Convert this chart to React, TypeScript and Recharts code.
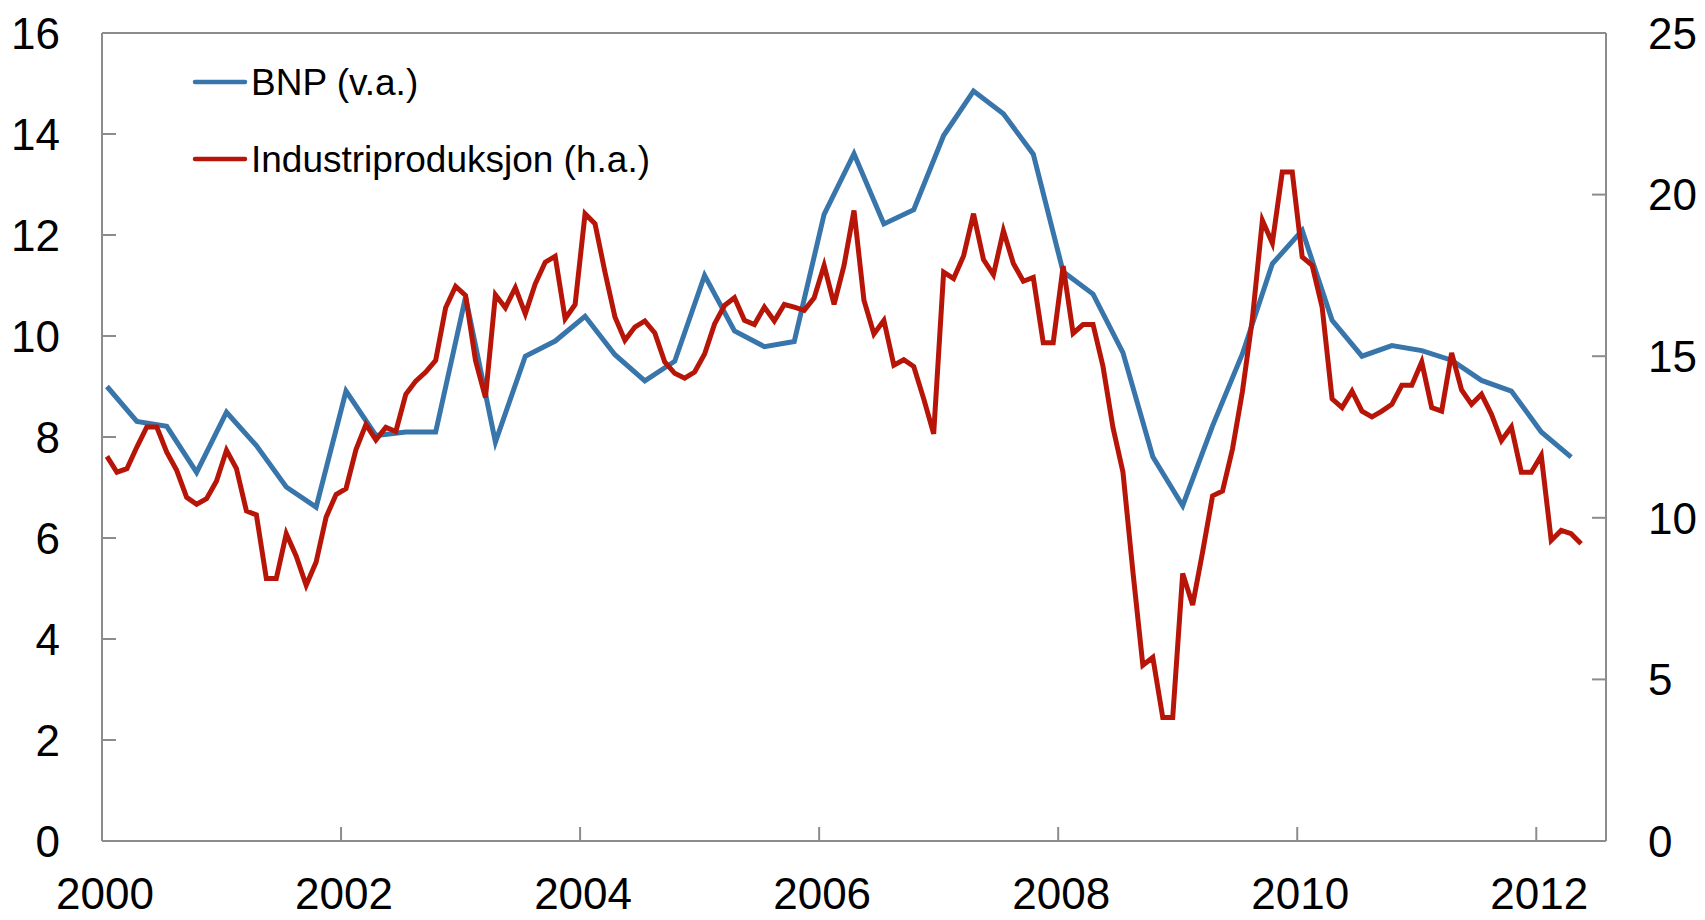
import { LineChart, Line, XAxis, YAxis, ReferenceLine, Legend } from 'recharts';

// BNP (v.a.), kvartal 2000K1 - 2012K2
const bnpValues = [
  9.0, 8.31, 8.21, 7.3, 8.49, 7.83, 7.01, 6.61, 8.91, 8.03,
  8.1, 8.1, 10.77, 7.9, 9.6, 9.9, 10.39, 9.63, 9.11, 9.5,
  11.2, 10.1, 9.79, 9.89, 12.41, 13.61, 12.22, 12.5, 13.97, 14.85,
  14.4, 13.6, 11.27, 10.83, 9.67, 7.61, 6.64, 8.22, 9.65, 11.43,
  12.09, 10.31, 9.6, 9.81, 9.71, 9.52, 9.12, 8.91, 8.1, 7.6,
];

// Industriproduksjon (h.a.), måned jan 2000 - mai 2012
const industryValues = [
  11.9, 11.41, 11.52, 12.19, 12.81, 12.81, 12.03, 11.47, 10.63, 10.42, 10.59, 11.14,
  12.09, 11.52, 10.21, 10.09, 8.12, 8.12, 9.51, 8.81, 7.91, 8.63, 10.02, 10.72,
  10.9, 12.11, 12.89, 12.41, 12.8, 12.67, 13.82, 14.23, 14.51, 14.87, 16.5, 17.16,
  16.88, 14.87, 13.72, 16.9, 16.5, 17.12, 16.31, 17.24, 17.91, 18.09, 16.16, 16.6,
  19.41, 19.1, 17.6, 16.21, 15.49, 15.9, 16.09, 15.72, 14.82, 14.47, 14.32, 14.51,
  15.07, 16.0, 16.57, 16.81, 16.11, 15.98, 16.52, 16.09, 16.6, 16.52, 16.42, 16.81,
  17.81, 16.6, 17.81, 19.51, 16.73, 15.69, 16.11, 14.72, 14.89, 14.68, 13.68, 12.6,
  17.6, 17.4, 18.1, 19.41, 17.99, 17.52, 18.88, 17.87, 17.32, 17.44, 15.42, 15.42,
  17.79, 15.71, 15.98, 15.98, 14.68, 12.79, 11.42, 8.34, 5.44, 5.68, 3.82, 3.82,
  8.28, 7.3, 8.94, 10.68, 10.83, 12.13, 13.91, 16.16, 19.2, 18.5, 20.7, 20.7,
  18.07, 17.81, 16.52, 13.68, 13.41, 13.92, 13.3, 13.12, 13.3, 13.51, 14.1, 14.1,
  14.82, 13.41, 13.3, 15.1, 13.96, 13.51, 13.82, 13.2, 12.39, 12.81, 11.41, 11.41,
  11.93, 9.3, 9.61, 9.51, 9.2,
];

const yearTicks = [0, 24, 48, 72, 96, 120, 144]; // måneder etter jan 2000
const leftTicks = [0, 2, 4, 6, 8, 10, 12, 14, 16];
const rightTicks = [0, 5, 10, 15, 20, 25];

const bnpData = bnpValues.map((v, k) => ({ m: 3 * k + 0.5, bnp: v }));
const industryData = industryValues.map((v, i) => ({ m: i + 0.5, ind: v }));

const W = 1705;
const H = 920;
const PL = 102;
const PR = 1606;
const PB = 841;
const AXIS = '#8c8c8c';
const BLUE = '#3775aa';
const RED = '#b81509';
const FONT = '"Liberation Sans", Arial, sans-serif';
const TICK_FS = 44;

const LeftTick = (props: any) => {
  const { y, payload } = props;
  return (
    <g>
      <line x1={PL} x2={PL + 14} y1={y} y2={y} stroke={AXIS} strokeWidth={2} />
      <text x={PL - 42} y={y} dy="0.36em" textAnchor="end" fontSize={TICK_FS} fontFamily={FONT} fill="#000">
        {payload.value}
      </text>
    </g>
  );
};

const RightTick = (props: any) => {
  const { y, payload } = props;
  return (
    <g>
      <line x1={PR - 14} x2={PR} y1={y} y2={y} stroke={AXIS} strokeWidth={2} />
      <text x={PR + 42} y={y} dy="0.36em" textAnchor="start" fontSize={TICK_FS} fontFamily={FONT} fill="#000">
        {payload.value}
      </text>
    </g>
  );
};

const BottomTick = (props: any) => {
  const { x, payload } = props;
  return (
    <g>
      <line x1={x} x2={x} y1={PB} y2={PB - 14} stroke={AXIS} strokeWidth={2} />
      <text x={x + 3} y={PB + 52} dy="0.36em" textAnchor="middle" fontSize={TICK_FS} fontFamily={FONT} fill="#000">
        {2000 + payload.value / 12}
      </text>
    </g>
  );
};

const legendItems = [
  { label: 'BNP (v.a.)', color: BLUE },
  { label: 'Industriproduksjon (h.a.)', color: RED },
];

const renderLegend = () => (
  <svg width={700} height={200}>
    {legendItems.map((item, i) => (
      <g key={item.label}>
        <line x1={195} x2={245} y1={82 + i * 77} y2={82 + i * 77} stroke={item.color} strokeWidth={4.5} strokeLinecap="round" />
        <text x={251} y={82 + i * 77} dy="0.36em" fontSize={37} fontFamily={FONT} fill="#000">
          {item.label}
        </text>
      </g>
    ))}
  </svg>
);

export default function App() {
  return (
    <div style={{ position: 'absolute', left: 0, top: 0, width: W, height: H, background: '#fff' }}>
      <LineChart width={W} height={H} margin={{ top: 33, right: 0, bottom: 0, left: 0 }}>
        <XAxis
          dataKey="m"
          type="number"
          domain={[0, 151]}
          ticks={yearTicks}
          interval={0}
          height={H - PB}
          axisLine={{ stroke: AXIS, strokeWidth: 2 }}
          tickLine={false}
          tickSize={0}
          tick={<BottomTick />}
        />
        <YAxis
          yAxisId="left"
          orientation="left"
          width={PL}
          domain={[0, 16]}
          ticks={leftTicks}
          interval={0}
          axisLine={{ stroke: AXIS, strokeWidth: 2 }}
          tickLine={false}
          tickSize={0}
          tick={<LeftTick />}
        />
        <YAxis
          yAxisId="right"
          orientation="right"
          width={W - PR}
          domain={[0, 25]}
          ticks={rightTicks}
          interval={0}
          axisLine={{ stroke: AXIS, strokeWidth: 2 }}
          tickLine={false}
          tickSize={0}
          tick={<RightTick />}
        />
        <ReferenceLine yAxisId="left" y={16} stroke={AXIS} strokeWidth={2} />
        <Legend
          layout="vertical"
          align="center"
          verticalAlign="middle"
          content={renderLegend}
          wrapperStyle={{ top: 0, left: 0, width: 700, height: 200 }}
        />
        <Line
          yAxisId="left"
          data={bnpData}
          dataKey="bnp"
          stroke={BLUE}
          strokeWidth={5}
          dot={false}
          activeDot={false}
          isAnimationActive={false}
        />
        <Line
          yAxisId="right"
          data={industryData}
          dataKey="ind"
          stroke={RED}
          strokeWidth={5}
          dot={false}
          activeDot={false}
          isAnimationActive={false}
        />
      </LineChart>
    </div>
  );
}
